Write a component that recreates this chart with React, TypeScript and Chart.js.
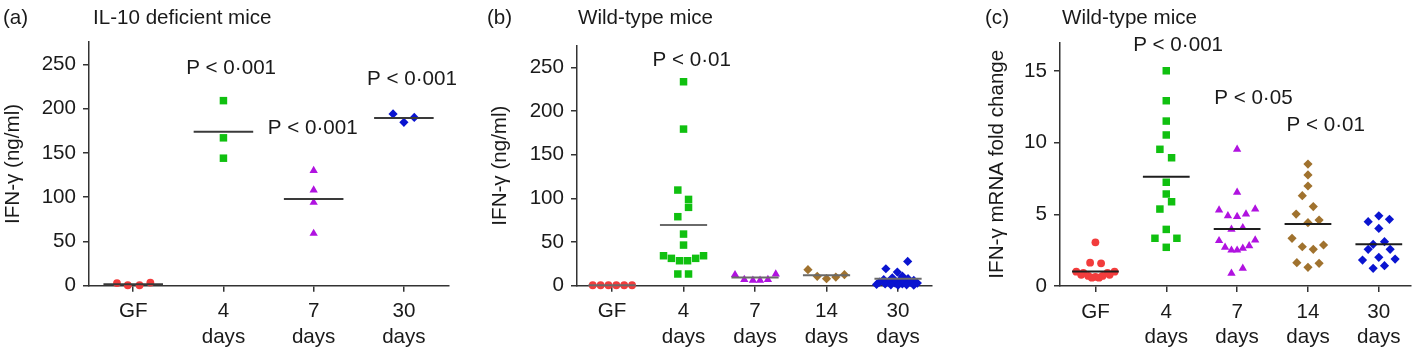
import React, { useEffect, useRef } from 'react';
import { Chart, registerables } from 'chart.js';

Chart.register(...registerables);

// ---------- shared ----------
const FONT = 'Liberation Sans, Arial, Helvetica, sans-serif';
const TEXT = '#1a1a1a';
const AXIS = '#333333';
const FONT_SIZE = 20.6;

// ---------- Panel (a): IL-10 deficient mice, IFN-γ (ng/ml) ----------
const labelsA = [['GF'], ['4', 'days'], ['7', 'days'], ['30', 'days']];
const yTicksA = [0, 50, 100, 150, 200, 250];
const aGF = [3, 0.5, 0.5, 3.5];
const aGFx = [-0.18, -0.06, 0.07, 0.19];
const a4 = [209, 167, 144];
const a4x = [0, 0, 0];
const a7 = [130, 108, 94, 59];
const a7x = [0, 0, 0, 0];
const a30 = [194, 184.5, 190];
const a30x = [-0.12, 0, 0.115];
const mediansA = [1.5, 174, 98, 189.5];
const pTextA = ['P < 0·001', 'P < 0·001', 'P < 0·001'];

// ---------- Panel (b): Wild-type mice, IFN-γ (ng/ml) ----------
const labelsB = [['GF'], ['4', 'days'], ['7', 'days'], ['14', 'days'], ['30', 'days']];
const yTicksB = [0, 50, 100, 150, 200, 250];
const bGF = [0.5, 0.5, 0.5, 0.5, 0.5, 0.5];
const bGFx = [-0.27, -0.16, -0.05, 0.06, 0.17, 0.28];
const b4 = [233.5, 179.3, 109.5, 98.8, 89.7, 79, 59.1, 46.5, 34.3, 31.3, 28.6, 28.6, 31.3, 34.3, 13.4, 13.4];
const b4x = [0, 0, -0.08, 0.07, 0.07, -0.08, 0, 0, -0.28, -0.17, -0.056, 0.056, 0.17, 0.28, -0.08, 0.07];
const b7 = [12.6, 6.9, 6.1, 6.1, 6.9, 13.3];
const b7x = [-0.28, -0.15, -0.03, 0.07, 0.18, 0.29];
const b14 = [18.3, 10.7, 8, 9.9, 12.6];
const b14x = [-0.26, -0.13, 0, 0.13, 0.25];
const b30 = [27.8, 19.4, 15.6, 11, 9, 8, 7, 6, 6, 5, 5, 4, 4, 3, 3, 2, 2, 1.5, 1, 1, 0.5, 0.5];
const b30x = [0.135, -0.17, -0.01, 0.06, -0.08, 0.14, -0.2, 0.02, 0.22, -0.12, 0.1, -0.26, 0.17, -0.04, 0.27, -0.18, 0.06, -0.3, -0.1, 0.12, 0.0, 0.22];
const mediansB = [0.5, 69.4, 9.5, 12, 8];
const pTextB = ['P < 0·01'];

// ---------- Panel (c): Wild-type mice, IFN-γ mRNA fold change ----------
const labelsC = [['GF'], ['4', 'days'], ['7', 'days'], ['14', 'days'], ['30', 'days']];
const yTicksC = [0, 5, 10, 15];
const cGF = [3.05, 1.63, 1.58, 1.0, 0.92, 0.92, 1.0, 0.78, 0.7, 0.64, 0.7, 0.78, 0.58, 0.58];
const cGFx = [0, -0.075, 0.08, -0.27, -0.17, 0.17, 0.27, -0.2, -0.1, 0, 0.1, 0.2, -0.05, 0.05];
const c4 = [15.02, 12.93, 11.51, 10.54, 9.54, 8.95, 7.24, 6.42, 5.88, 5.37, 3.95, 3.33, 3.33, 2.7];
const c4x = [0, 0, 0, 0, -0.09, 0.075, 0, 0, 0.075, -0.09, 0, -0.16, 0.15, 0];
const c7 = [9.54, 6.54, 5.3, 4.9, 4.84, 5.02, 5.37, 3.95, 4.07, 3.16, 2.7, 2.5, 2.5, 2.63, 2.8, 3.2, 0.88, 1.23];
const c7x = [0, 0, -0.255, -0.13, 0, 0.125, 0.255, -0.08, 0.08, -0.255, -0.17, -0.08, 0, 0.08, 0.17, 0.255, -0.08, 0.08];
const c14 = [8.51, 7.75, 6.98, 6.3, 5.54, 5.02, 4.42, 4.6, 3.33, 2.74, 2.56, 2.86, 1.63, 1.3, 1.58];
const c14x = [0, 0, 0, -0.08, 0.075, -0.167, 0, 0.157, -0.225, -0.08, 0.075, 0.22, -0.157, 0, 0.157];
const c30 = [4.9, 4.49, 4.65, 4.02, 2.91, 3.09, 2.56, 2.56, 2.0, 1.81, 1.88, 1.23, 1.42];
const c30x = [0, -0.15, 0.15, 0, -0.08, 0.08, -0.15, 0.16, 0, -0.23, 0.23, -0.08, 0.08];
const mediansC = [1.02, 7.63, 3.98, 4.33, 2.91];
const pTextC = ['P < 0·001', 'P < 0·05', 'P < 0·01'];

// ---------- marker styles per group ----------
const STYLE = {
  gf: { shape: 'circle', r: 3.9, color: '#f23c3c' },
  d4: { shape: 'rect', r: 5.3, color: '#10c010' },
  d7: { shape: 'triangle', r: 4.8, color: '#b012e0' },
  d14: { shape: 'rectRot', r: 4.6, color: '#a0722e' },
  d30: { shape: 'rectRot', r: 4.6, color: '#0a14d0' },
};

type Group = { values: number[]; offsets: number[]; median: number; style: any };
type Anno = { text: string; x: number; y: number };

type Panel = {
  left: number; width: number; padLeft: number; axisX: number; top: number; right: number; bottom: number;
  xMin: number; xMax: number; yMax: number; yTicks: number[]; labels: string[][];
  groups: Group[]; yTitle: string; letter: string; title: string; letterDx: number; titleDx: number;
  annos: Anno[]; medianColor: string;
};

const panels: Panel[] = [
  {
    left: 0, width: 470, padLeft: 1.3, axisX: 89, top: 42.2, right: 449, bottom: 285.7,
    xMin: -0.49, xMax: 3.5, yMax: 275, yTicks: yTicksA, labels: labelsA,
    groups: [
      { values: aGF, offsets: aGFx, median: mediansA[0], style: STYLE.gf },
      { values: a4, offsets: a4x, median: mediansA[1], style: STYLE.d4 },
      { values: a7, offsets: a7x, median: mediansA[2], style: STYLE.d7 },
      { values: a30, offsets: a30x, median: mediansA[3], style: STYLE.d30 },
    ],
    yTitle: 'IFN-γ (ng/ml)', letter: '(a)', title: 'IL-10 deficient mice', letterDx: -86, titleDx: 4,
    annos: [
      { text: pTextA[0], x: 1.085, y: 245.8 },
      { text: pTextA[1], x: 1.99, y: 178 },
      { text: pTextA[2], x: 3.09, y: 233 },
    ],
    medianColor: '#3a3a3a',
  },
  {
    left: 470, width: 475, padLeft: 18, axisX: 577, top: 45.5, right: 932, bottom: 285.7,
    xMin: -0.49, xMax: 4.475, yMax: 275, yTicks: yTicksB, labels: labelsB,
    groups: [
      { values: bGF, offsets: bGFx, median: mediansB[0], style: STYLE.gf },
      { values: b4, offsets: b4x, median: mediansB[1], style: STYLE.d4 },
      { values: b7, offsets: b7x, median: mediansB[2], style: STYLE.d7 },
      { values: b14, offsets: b14x, median: mediansB[3], style: STYLE.d14 },
      { values: b30, offsets: b30x, median: mediansB[4], style: STYLE.d30 },
    ],
    yTitle: 'IFN-γ (ng/ml)', letter: '(b)', title: 'Wild-type mice', letterDx: -90, titleDx: 1,
    annos: [{ text: pTextB[0], x: 1.115, y: 258 }],
    medianColor: '#6a6a6a',
  },
  {
    left: 950, width: 466, padLeft: 34.7, axisX: 1060, top: 42.4, right: 1416, bottom: 286,
    xMin: -0.5, xMax: 4.45, yMax: 17, yTicks: yTicksC, labels: labelsC,
    groups: [
      { values: cGF, offsets: cGFx, median: mediansC[0], style: STYLE.gf },
      { values: c4, offsets: c4x, median: mediansC[1], style: STYLE.d4 },
      { values: c7, offsets: c7x, median: mediansC[2], style: STYLE.d7 },
      { values: c14, offsets: c14x, median: mediansC[3], style: STYLE.d14 },
      { values: c30, offsets: c30x, median: mediansC[4], style: STYLE.d30 },
    ],
    yTitle: 'IFN-γ mRNA fold change', letter: '(c)', title: 'Wild-type mice', letterDx: -75, titleDx: 2,
    annos: [
      { text: pTextC[0], x: 1.167, y: 16.77 },
      { text: pTextC[1], x: 2.23, y: 13.1 },
      { text: pTextC[2], x: 3.25, y: 11.19 },
    ],
    medianColor: '#1e1e1e',
  },
];

function buildChart(canvas: HTMLCanvasElement, p: Panel) {
  const datasets: any[] = [];
  p.groups.forEach((g, i) => {
    datasets.push({
      type: 'scatter',
      data: g.values.map((v, k) => ({ x: i + g.offsets[k], y: v })),
      pointStyle: g.style.shape,
      pointRadius: g.style.r,
      pointBackgroundColor: g.style.color,
      pointBorderColor: g.style.color,
      pointBorderWidth: 0,
      backgroundColor: g.style.color,
      borderColor: g.style.color,
      showLine: false,
      clip: false,
      order: 1,
    });
  });
  p.groups.forEach((g, i) => {
    datasets.push({
      type: 'line',
      data: [{ x: i - 0.33, y: g.median }, { x: i + 0.33, y: g.median }],
      borderColor: p.medianColor,
      borderWidth: 2,
      pointRadius: 0,
      fill: false,
      showLine: true,
      clip: false,
      order: 0,
    });
  });

  const textPlugin = {
    id: 'panelText',
    afterDraw(chart: any) {
      const ctx = chart.ctx;
      const xs = chart.scales.x;
      const ys = chart.scales.y;
      ctx.save();
      ctx.fillStyle = TEXT;
      ctx.font = `${FONT_SIZE}px ${FONT}`;
      ctx.textBaseline = 'middle';
      ctx.textAlign = 'left';
      const left = chart.chartArea.left;
      ctx.fillText(p.letter, left + p.letterDx, 18);
      ctx.fillText(p.title, left + p.titleDx, 18);
      ctx.textAlign = 'center';
      p.annos.forEach((a) => {
        ctx.fillText(a.text, xs.getPixelForValue(a.x), ys.getPixelForValue(a.y));
      });
      ctx.restore();
    },
  };

  const font = { family: FONT, size: FONT_SIZE };
  const yWidth = p.axisX - p.left - p.padLeft;
  const xHeight = 350 - p.bottom;

  return new Chart(canvas, {
    type: 'scatter',
    data: { datasets },
    plugins: [textPlugin],
    options: {
      animation: false,
      responsive: false,
      events: [],
      layout: { padding: { left: p.padLeft, top: p.top, right: p.left + p.width - p.right, bottom: 0 } },
      plugins: { legend: { display: false }, tooltip: { enabled: false }, title: { display: false } },
      scales: {
        x: {
          type: 'linear',
          min: p.xMin,
          max: p.xMax,
          afterBuildTicks: (s: any) => { s.ticks = p.labels.map((_, i) => ({ value: i })); },
          afterFit: (s: any) => { s.height = xHeight; },
          ticks: {
            callback: (_v: any, idx: number) => p.labels[idx],
            font: { ...font, lineHeight: 1.25 },
            color: TEXT,
            padding: 7,
            autoSkip: false,
            maxRotation: 0,
          },
          grid: { display: true, drawOnChartArea: false, drawTicks: true, tickLength: 6, color: AXIS, lineWidth: 1.5 },
          border: { display: true, color: AXIS, width: 1.5 },
        },
        y: {
          type: 'linear',
          min: 0,
          max: p.yMax,
          afterBuildTicks: (s: any) => { s.ticks = p.yTicks.map((v) => ({ value: v })); },
          afterFit: (s: any) => { s.width = yWidth; },
          ticks: { font, color: TEXT, padding: 7 },
          grid: { display: true, drawOnChartArea: false, drawTicks: true, tickLength: 6, color: AXIS, lineWidth: 1.5 },
          border: { display: true, color: AXIS, width: 1.5 },
          title: { display: true, text: p.yTitle, font, color: TEXT, padding: { top: 0, bottom: 0 } },
        },
      },
    } as any,
  });
}

function PanelCanvas({ p }: { p: Panel }) {
  const ref = useRef<HTMLCanvasElement | null>(null);
  useEffect(() => {
    if (!ref.current) return;
    const chart = buildChart(ref.current, p);
    return () => chart.destroy();
  }, [p]);
  return (
    <canvas
      ref={ref}
      width={p.width}
      height={350}
      style={{ position: 'absolute', left: p.left, top: 0, width: p.width, height: 350 }}
    />
  );
}

export default function App() {
  return (
    <div style={{ position: 'absolute', left: 0, top: 0, width: 1416, height: 350, background: '#ffffff', overflow: 'hidden' }}>
      {panels.map((p, i) => (
        <PanelCanvas key={i} p={p} />
      ))}
    </div>
  );
}
